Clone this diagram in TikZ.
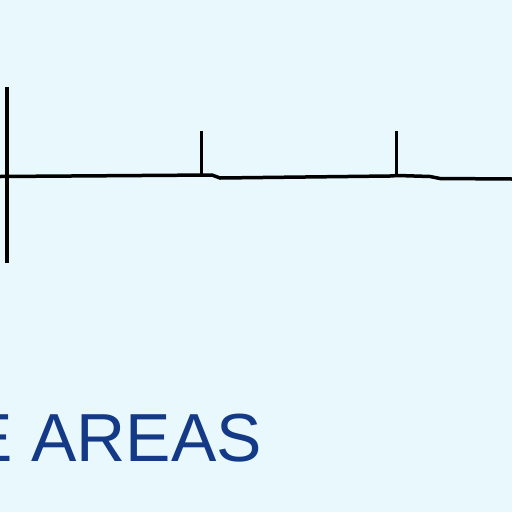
\documentclass[tikz,border=0pt]{standalone}
\usepackage{fontspec}
\setmainfont{Liberation Sans}
\definecolor{bgcyan}{RGB}{232,248,252}
\definecolor{labelblue}{RGB}{20,58,135}
\begin{document}
\begin{tikzpicture}[x=1pt, y=-1pt,
  axis/.style={draw=black, line width=3.5pt},
  tick/.style={draw=black, line width=3.5pt},
  caption/.style={font=\fontsize{68}{80}\selectfont, text=labelblue, inner sep=0pt, anchor=base west}]
  \useasboundingbox (0,0) rectangle (512,512);
  \fill[bgcyan] (0,0) rectangle (512,512);
  \clip (0,0) rectangle (512,512);
  % axis
  \coordinate (top) at (7,87);
  \coordinate (bot) at (7,263);
  \draw[axis] (top) -- (bot);
  \draw[axis] (0,176.5) -- (212,175) -- (220,178) -- (390,176) -- (398,175.5) -- (430,176.5) -- (440,178.5) -- (512,179);
  % ticks
  \foreach \x/\n in {201.5/a,396.5/b} {
    \coordinate (t\n) at (\x,131);
    \coordinate (f\n) at (\x,176);
    \draw[tick] (t\n) -- (f\n);
  }
  % label
  \node[caption] (areas) at (-33,461) {E AREAS};
\end{tikzpicture}
\end{document}
